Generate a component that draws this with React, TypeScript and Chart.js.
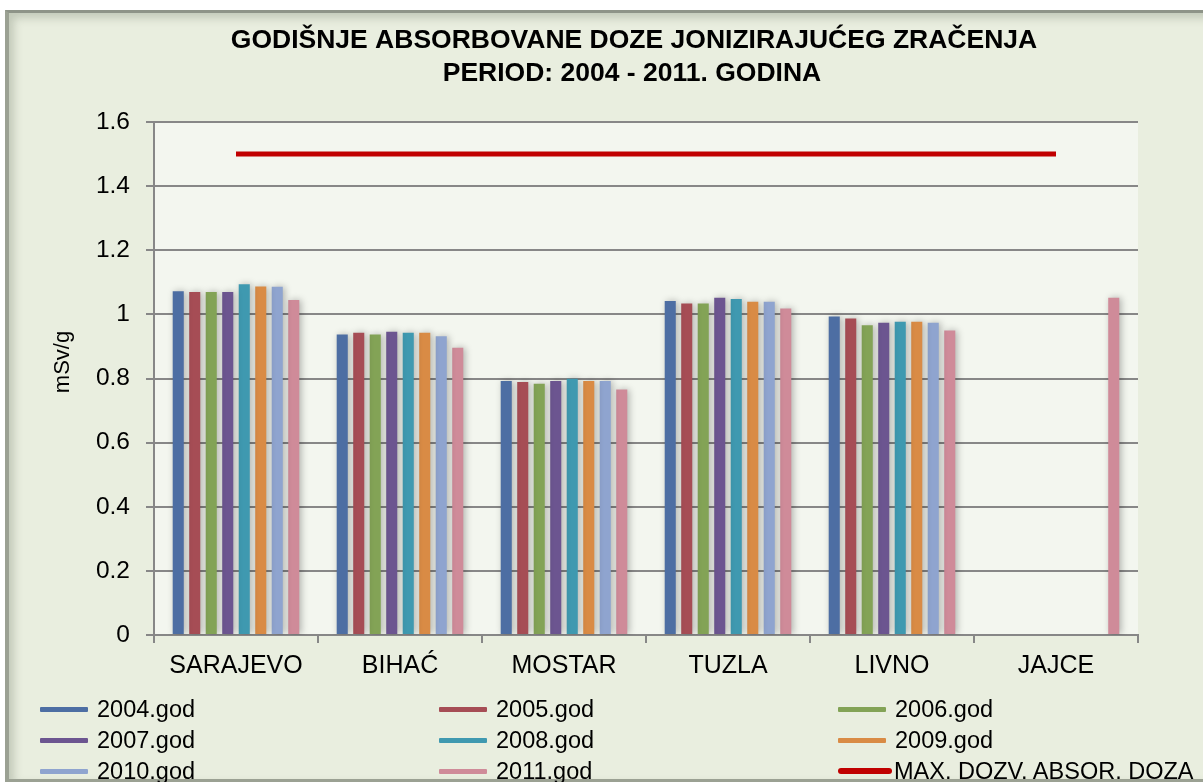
import React, { useEffect, useRef } from 'react';
import { Chart, registerables } from 'chart.js';

Chart.register(...registerables);

const CATEGORIES = ['SARAJEVO', 'BIHAĆ', 'MOSTAR', 'TUZLA', 'LIVNO', 'JAJCE'];
const SERIES_LABELS = ['2004.god', '2005.god', '2006.god', '2007.god', '2008.god', '2009.god', '2010.god', '2011.god'];
const V2004 = [1.072, 0.937, 0.792, 1.042, 0.993, null];
const V2005 = [1.07, 0.943, 0.789, 1.034, 0.987, null];
const V2006 = [1.07, 0.937, 0.784, 1.034, 0.966, null];
const V2007 = [1.07, 0.946, 0.792, 1.052, 0.974, null];
const V2008 = [1.094, 0.943, 0.799, 1.048, 0.977, null];
const V2009 = [1.087, 0.943, 0.792, 1.039, 0.977, null];
const V2010 = [1.086, 0.932, 0.792, 1.039, 0.974, null];
const V2011 = [1.045, 0.896, 0.766, 1.018, 0.95, 1.052];
const SERIES_VALUES = [V2004, V2005, V2006, V2007, V2008, V2009, V2010, V2011];
const MAX_DOSE = [1.5, 1.5, 1.5, 1.5, 1.5, 1.5];
const MAX_LABEL = 'MAX. DOZV. ABSOR. DOZA';
const Y_TICKS = ['0', '0.2', '0.4', '0.6', '0.8', '1', '1.2', '1.4', '1.6'];
const TITLE_LINES = ['GODIŠNJE ABSORBOVANE DOZE JONIZIRAJUĆEG ZRAČENJA', 'PERIOD: 2004 - 2011. GODINA'];
const Y_TITLE = 'mSv/g';

const COLORS = ['#4d6ea3', '#a64d55', '#83a356', '#6c5590', '#3f99b0', '#d98b45', '#8fa4cf', '#cf8b99'];
const LINE_COLOR = '#c00000';
const GRID = '#878787';
const FONT = '"Liberation Sans", Arial, sans-serif';

const plotBg = {
  id: 'plotBg',
  beforeDraw(chart: any) {
    const { ctx, chartArea } = chart;
    ctx.save();
    ctx.fillStyle = '#f3f6ef';
    ctx.fillRect(chartArea.left, chartArea.top, chartArea.right - chartArea.left, chartArea.bottom - chartArea.top);
    ctx.restore();
  },
};

const barShadow = {
  id: 'barShadow',
  beforeDatasetDraw(chart: any, args: any) {
    if (args.meta.type === 'bar') {
      const ctx = chart.ctx;
      ctx.save();
      ctx.shadowColor = 'rgba(0,0,0,0.28)';
      ctx.shadowBlur = 7;
      ctx.shadowOffsetX = 2;
      ctx.shadowOffsetY = 0;
    }
  },
  afterDatasetDraw(chart: any, args: any) {
    if (args.meta.type === 'bar') chart.ctx.restore();
  },
};

const textPlugin = {
  id: 'textPlugin',
  afterDraw(chart: any) {
    const ctx = chart.ctx;
    ctx.save();
    ctx.fillStyle = '#000';
    ctx.font = `bold 26.5px ${FONT}`;
    ctx.textAlign = 'center';
    ctx.textBaseline = 'middle';
    ctx.fillText(TITLE_LINES[0], 634, 41);
    ctx.fillText(TITLE_LINES[1], 632, 74);
    ctx.restore();
    ctx.save();
    ctx.fillStyle = '#000';
    ctx.font = `22px ${FONT}`;
    ctx.textAlign = 'center';
    ctx.textBaseline = 'middle';
    ctx.translate(63, 362);
    ctx.rotate(-Math.PI / 2);
    ctx.fillText(Y_TITLE, 0, 0);
    ctx.restore();
  },
};

export default function App() {
  const ref = useRef<HTMLCanvasElement | null>(null);

  useEffect(() => {
    if (!ref.current) return;
    const barSets = SERIES_VALUES.map((vals, i) => ({
      type: 'bar' as const,
      label: SERIES_LABELS[i],
      data: vals,
      backgroundColor: COLORS[i],
      borderWidth: 0,
      categoryPercentage: 0.805,
      barPercentage: 0.67,
      order: 1,
    }));
    const chart = new Chart(ref.current, {
      type: 'bar',
      data: {
        labels: CATEGORIES,
        datasets: [
          ...barSets,
          {
            type: 'line' as const,
            label: MAX_LABEL,
            data: MAX_DOSE,
            borderColor: LINE_COLOR,
            borderWidth: 5,
            pointRadius: 0,
            fill: false,
            order: 0,
          } as any,
        ],
      },
      options: {
        animation: false,
        responsive: false,
        maintainAspectRatio: false,
        layout: { padding: { left: 0, right: 65, top: 122, bottom: 87 } },
        plugins: {
          legend: { display: false },
          title: { display: false },
          tooltip: { enabled: false },
        },
        scales: {
          x: {
            grid: { offset: true, drawOnChartArea: false, drawTicks: true, tickLength: 8, color: GRID, lineWidth: 2 },
            border: { color: GRID, width: 2 },
            ticks: { color: '#000', font: { family: FONT, size: 25 }, padding: 8, maxRotation: 0, autoSkip: false },
            afterFit: (s: any) => { s.height = 60; },
          },
          y: {
            min: 0,
            max: 1.6,
            ticks: {
              stepSize: 0.2,
              color: '#000',
              font: { family: FONT, size: 24.5 },
              padding: 16,
              callback: (v: any) => Y_TICKS[Math.round(Number(v) / 0.2)],
            },
            grid: { color: GRID, lineWidth: 2, tickLength: 8 },
            border: { color: GRID, width: 2 },
            title: { display: false, text: Y_TITLE },
            afterFit: (s: any) => { s.width = 154; },
          },
        },
      } as any,
      plugins: [plotBg, barShadow, textPlugin],
    });
    return () => chart.destroy();
  }, []);

  const legendItems = [
    ...SERIES_LABELS.map((l, i) => ({ label: l, color: COLORS[i], line: false })),
    { label: MAX_LABEL, color: LINE_COLOR, line: true },
  ];
  const colX = [40, 439, 838];
  const rowY = [709, 740, 771];

  return (
    <div style={{ position: 'fixed', left: 0, top: 0, width: 1203, height: 782, overflow: 'hidden', background: '#ffffff', fontFamily: FONT }}>
      <div
        style={{
          position: 'absolute',
          left: 5,
          top: 10,
          width: 1220,
          height: 766,
          background: '#e9eedf',
          borderLeft: '4px solid #9ba193',
          borderTop: '3px solid #8e9488',
          borderBottom: '3px solid #9ba193',
          boxShadow: 'inset 5px 5px 8px rgba(80,90,70,0.25)',
        }}
      />
      <canvas ref={ref} width={1203} height={782} style={{ position: 'absolute', left: 0, top: 0, width: 1203, height: 782 }} />
      {legendItems.map((it, i) => {
        const col = i % 3;
        const row = Math.floor(i / 3);
        const x = colX[col];
        const y = rowY[row];
        return (
          <div key={it.label} style={{ position: 'absolute', left: x, top: y - 16, height: 32, display: 'flex', alignItems: 'center', whiteSpace: 'nowrap' }}>
            <div style={{ width: it.line ? 54 : 48, height: it.line ? 6 : 5, background: it.color, borderRadius: it.line ? 3 : 1, marginRight: it.line ? 2 : 9 }} />
            <span style={{ fontSize: 23.5, color: '#000', lineHeight: '32px' }}>{it.label}</span>
          </div>
        );
      })}
    </div>
  );
}
